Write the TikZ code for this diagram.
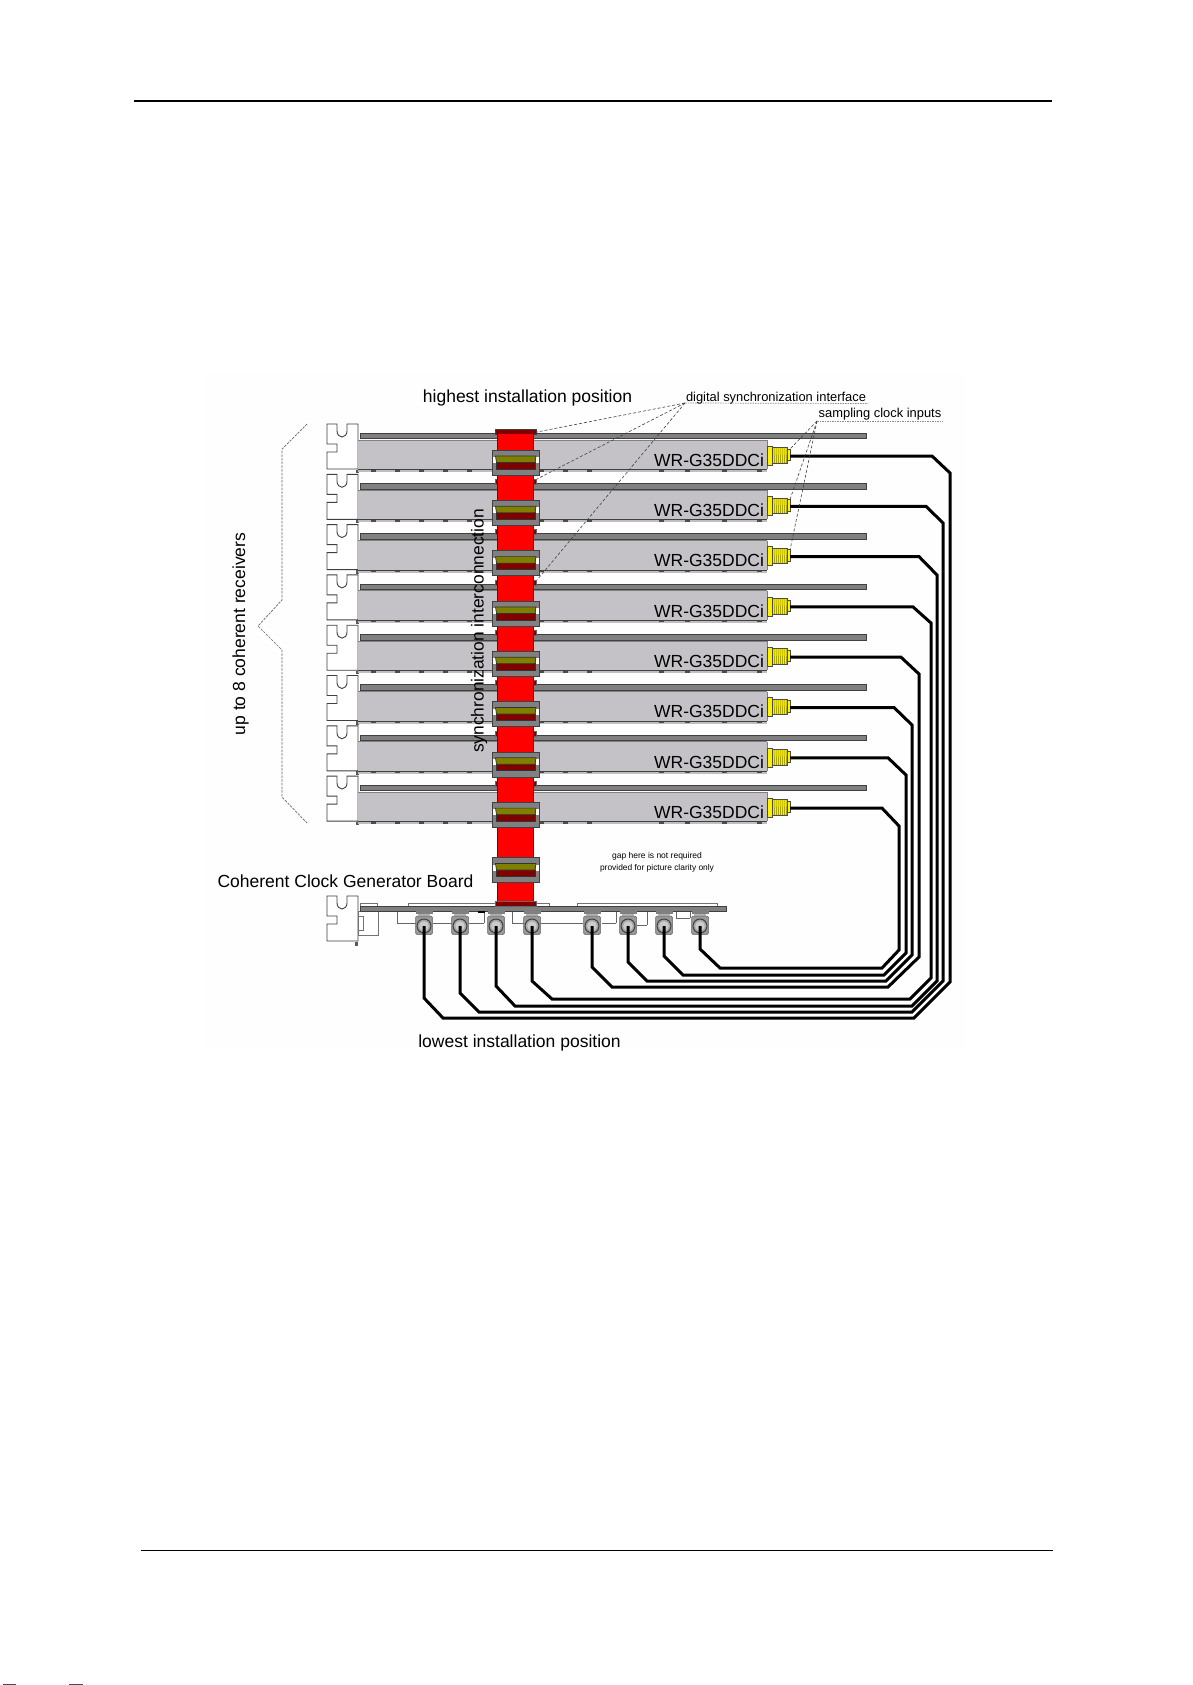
\documentclass[tikz,border=0pt]{standalone}
\usepackage{fontspec}
\setmainfont{Liberation Sans}
\newcommand{\fsz}[1]{\fontsize{#1}{#1}\selectfont}
\definecolor{cardgray}{HTML}{C4C2C6}
\definecolor{railgray}{HTML}{808080}
\definecolor{edge}{HTML}{404040}
\definecolor{dkred}{HTML}{800000}
\definecolor{olive2}{HTML}{808000}
\definecolor{paper}{HTML}{FEFEFE}
\tikzset{
  lbl/.style={inner sep=0pt,outer sep=0pt,anchor=center,text=black},
  bracket/.style={draw=edge,fill=white,line width=0.9pt,line join=miter},
  leader/.style={draw=black!75,line width=0.6pt,dash pattern=on 3pt off 2pt},
  underl/.style={draw=black!45,line width=0.7pt,dash pattern=on 1.5pt off 1pt},
  wire/.style={draw=black,line width=3pt,line join=miter,line cap=butt},
  thin gray/.style={draw=black!60,line width=0.8pt},
  pbrace/.style={draw=black!60,line width=0.7pt,dash pattern=on 2.5pt off 1.2pt}
}
\newcommand{\brk}{%
  \path[bracket] (327,424) -- (337,424) -- (337,431) arc[start angle=180,end angle=0,x radius=5,y radius=6] -- (347,424) -- (358,424) -- (358,469) -- (327,469) -- (327,452) -- (337,452) -- (337,444) -- (327,444) -- cycle;
}
\newcommand{\conn}{%
  \fill[railgray] (492,450) rectangle (539.5,475);
  \draw[edge,line width=0.6pt] (492,450) rectangle (539.5,475);
  \fill[white] (493,457) rectangle (496,463);
  \fill[white] (536,457) rectangle (538.5,463);
  \fill[dkred] (496,462) rectangle (535.5,469);
  \draw[black!80,line width=0.7pt] (496,462) -- (496,469) -- (535.5,469) -- (535.5,462);
  \fill[olive2] (495.5,456) -- (536,456) -- (535,462.5) -- (496.5,462.5) -- cycle;
  \draw[black!80,line width=0.7pt] (495.5,456) -- (536,456) -- (535,462.5) -- (496.5,462.5) -- cycle;
}
\begin{document}
\begin{tikzpicture}[x=1pt,y=-1pt]
\path[use as bounding box,fill=white] (0,0) rectangle (1192,1685);
\fill[paper] (207,372) rectangle (965,1050);
% page rules
\draw[black,line width=1.8pt] (134,101) -- (1052,101);
\draw[black,line width=1pt] (141,1550) -- (1053,1550);
\fill[black!70] (3,1684) rectangle (16,1685);
\fill[black!70] (69,1684) rectangle (83,1685);
% receiver cards
\foreach \i in {0,...,7}{
  \pgfmathsetmacro{\yo}{50.3*\i}
  \begin{scope}[shift={(0,\yo)}]
    \fill[black!65] (356,469.5) rectangle (358.5,473);
    \brk
    \fill[railgray] (360,433) rectangle (866,438.5);
    \draw[edge,line width=0.4pt] (360,433) rectangle (866,438.5);
    \fill[cardgray] (358,440) rectangle (767,469);
    \draw[railgray,line width=1pt] (358,440) -- (767,440);
    \draw[railgray,line width=0.6pt] (767,440) -- (767,469);
    \fill[black!25] (358,469) rectangle (767,472);
    \draw[edge,line width=0.9pt] (358,469.5) -- (767,469.5);
    \foreach \t in {373,397,421,445,469,541,565,589,661,687,724,759}{
      \fill[black!70] (\t-2.5,470) rectangle (\t+2.5,471.5);
    }
    % SMA connector
    \fill[yellow] (767,446) rectangle (772,465);
    \draw[black!70,line width=0.5pt] (767,446) rectangle (772,465);
    \fill[yellow] (772,447.5) rectangle (787,463);
    \foreach \t in {774,776,778,780,782,784,786}{\draw[olive2,line width=0.5pt] (\t,447.5) -- (\t+0.5,463);}
    \draw[black!70,line width=0.5pt] (772,447.5) rectangle (787,463);
    \fill[yellow] (787,449) rectangle (790,460.5);
    \draw[black!70,line width=0.5pt] (787,449) rectangle (790,460.5);
    \node[lbl,anchor=base east] (card\i) at (764,466.3) {\fsz{17.5}WR-G35DDCi};
    \coordinate (c\i) at (790,456);
  \end{scope}
}
% board
\foreach \a/\b in {360/377,408/549,577/717}{
  \draw[black!55,fill=white,line width=0.7pt] (\a,906) -- (\a,903.5) -- (\b,903.5) -- (\b,906);
}
\begin{scope}[shift={(0,472)}]\brk\end{scope}
\fill[black!65] (355,942) rectangle (358,946);
\draw[black!55,line width=0.8pt,fill=white] (358,911) rectangle (378,935);
\draw[black!55,line width=0.8pt] (358,916) -- (363,916) -- (363,930) -- (358,930);
\foreach \x/\yy/\xb/\yb in {433/923/452/923,469/923/484/923,484/923/484/911,512/911/512/923,512/923/524/923,540/923/583/923,602/923/616/923,616/923/616/911,637/925/647/925,647/925/647/911,676/911/676/918,676/918/690/918,690/918/690/911,397/911/397/923,397/923/416/923}{
  \draw[thin gray] (\x,\yy) -- (\xb,\yb);
}
\fill[railgray] (360,906) rectangle (726,911);
\draw[edge,line width=0.6pt] (360,906) rectangle (726,911);
\fill[black] (478,910.5) rectangle (485,913);
\foreach \j/\x in {0/424,1/460,2/496,3/532,4/592,5/628,6/664,7/700}{
  \fill[railgray] (\x-8.5,911) rectangle (\x+8.5,914);
  \fill[black!30] (\x-6,914) rectangle (\x+6,916);
  \draw[black!60,fill=black!40,line width=0.5pt,rounded corners=1.5pt] (\x-8.5,916) rectangle (\x+8.5,934.5);
  \draw[black!75,fill=black!35,line width=1pt] (\x,926) circle (7);
  \fill[black!20] (\x,926) circle (4.8);
  \coordinate (b\j) at (\x,926);
}
% sync cable
\fill[dkred] (495,429) rectangle (536,434);
\draw[black!75,line width=0.6pt] (495,429) rectangle (536,434);
\foreach \i in {1,...,7}{
  \pgfmathsetmacro{\yo}{50.3*\i}
  \begin{scope}[shift={(0,\yo)}]
    \fill[dkred] (495,429) rectangle (536,434);
    \draw[black!60,line width=0.5pt] (495,429) rectangle (536,434);
  \end{scope}
}
\fill[red] (497,434) rectangle (533,901);
\draw[dkred,line width=0.5pt] (497,434) -- (497,901) (533,434) -- (533,901);
\fill[dkred] (495,901) rectangle (536,906);
\draw[black!60,line width=0.5pt] (495,901) rectangle (536,906);
\foreach \i in {0,...,7}{
  \pgfmathsetmacro{\yo}{50.3*\i}
  \begin{scope}[shift={(0,\yo)}]\conn\end{scope}
}
\begin{scope}[shift={(0,407.5)}]\conn\end{scope}
% wires
\foreach \i/\cx/\uy/\vx/\ly/\hx/\hy/\lx/\dy/\bx in {
  0/932/473/950/982/914/1018/443/998/424,
  1/926/523/943/981/912/1012/479/993/460,
  2/919/575/937/981/912/1006/515/986/496,
  3/913/623/931/978/910/999/552/981/532,
  4/901/674/919/957/888/987/612/967/592,
  5/894/725/912/955/886/981/647/962/628,
  6/888/775/906/953/884/975/683/956/664,
  7/882/826/899/950/882/968/720/949/700}{
  \pgfmathsetmacro{\wy}{456+50.3*\i}
  \draw[wire] (c\i |- 0,\wy) -- (\cx,\wy) -- (\vx,\uy) -- (\vx,\ly) -- (\hx,\hy) -- (\lx,\hy) -- (\bx,\dy) -- (b\i);
}
% leaders
\coordinate (dsi) at (685,403);
\coordinate (sci) at (817,421);
\coordinate (d0) at (537,432);
\coordinate (d1) at (537,479);
\coordinate (d2) at (537,580);
\coordinate (s0) at (790,449);
\coordinate (s1) at (790,499.5);
\coordinate (s2) at (790,550);
\foreach \n in {d0,d1,d2}{\draw[leader] (dsi) -- (\n);}
\foreach \n in {s0,s1,s2}{\draw[leader] (sci) -- (\n);}
\draw[underl] (dsi) -- (868,403.5);
\draw[underl] (sci) -- (943,421);
% brace
\draw[pbrace] (307,424) -- (282,449) -- (282,600) -- (258,626) -- (282,650) -- (282,797) -- (307,823);
% texts
\node[lbl] (high) at (527.5,398) {\fsz{17.5}highest installation position};
\node[lbl] (dsl) at (776,398.5) {\fsz{12.9}digital synchronization interface};
\node[lbl] (scl) at (880,414.5) {\fsz{12.9}sampling clock inputs};
\node[lbl,rotate=90] (up8) at (240.5,634) {\fsz{17.5}up to 8 coherent receivers};
\node[lbl,rotate=90] (syn) at (479,631) {\fsz{17.4}synchronization interconnection};
\node[lbl] (ccg) at (345.5,881) {\fsz{17.5}Coherent Clock Generator Board};
\node[lbl] (low) at (519.5,1043) {\fsz{17.5}lowest installation position};
\node[lbl] (gap1) at (657,856) {\fsz{8.5}gap here is not required};
\node[lbl] (gap2) at (657,868) {\fsz{8.4}provided for picture clarity only};
\end{tikzpicture}
\end{document}
